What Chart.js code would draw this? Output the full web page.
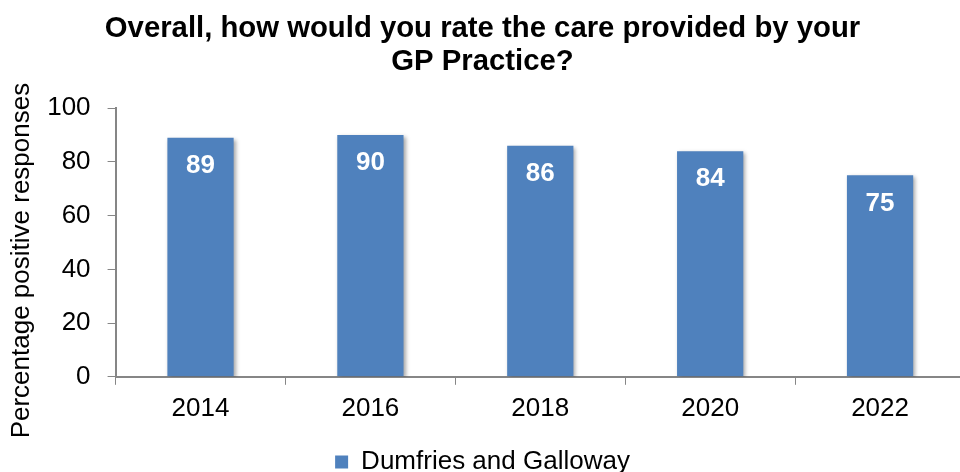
<!DOCTYPE html>
<html>
<head>
<meta charset="utf-8">
<script src="https://cdn.jsdelivr.net/npm/chart.js@4.4.0/dist/chart.umd.min.js"></script>
<style>
  html, body { margin: 0; padding: 0; background: #fff; overflow: hidden; }
  .graph-container { width: 960px; height: 472px; overflow: hidden; }
</style>
</head>
<body>
<div class="graph-container">
  <canvas id="chart" width="965" height="485"></canvas>
</div>
<script>
const years = ['2014', '2016', '2018', '2020', '2022'];
const positive = [89, 90, 86, 84, 75];
const seriesName = 'Dumfries and Galloway';
const yTicks = [0, 20, 40, 60, 80, 100];

const FONT = '"Liberation Sans", Arial, sans-serif';

// soft drop shadow behind the bars
const barShadow = {
  id: 'barShadow',
  beforeDatasetsDraw(chart) {
    const ctx = chart.ctx;
    ctx.save();
    ctx.shadowColor = 'rgba(0, 0, 0, 0.35)';
    ctx.shadowBlur = 4;
    ctx.shadowOffsetX = 2;
    ctx.shadowOffsetY = 2;
  },
  afterDatasetsDraw(chart) {
    chart.ctx.restore();
  },
};

// white value labels just inside the top of each bar
const valueLabels = {
  id: 'valueLabels',
  afterDatasetsDraw(chart) {
    const ctx = chart.ctx;
    const meta = chart.getDatasetMeta(0);
    ctx.save();
    ctx.fillStyle = '#ffffff';
    ctx.font = 'bold 26px ' + FONT;
    ctx.textAlign = 'center';
    ctx.textBaseline = 'middle';
    meta.data.forEach((bar, i) => {
      ctx.fillText(String(positive[i]), bar.x, bar.y + 28);
    });
    ctx.restore();
  },
};

const chartRef = document.getElementById('chart').getContext('2d');
const barChart = new Chart(chartRef, {
  type: 'bar',
  data: {
    labels: years,
    datasets: [
      {
        label: seriesName,
        data: positive,
        backgroundColor: '#4F81BD',
        borderWidth: 0,
        categoryPercentage: 1,
        barPercentage: 0.39,
      },
    ],
  },
  options: {
    responsive: false,
    animation: false,
    devicePixelRatio: 1,
    layout: { padding: { left: 0, right: 0, top: 6, bottom: 0 } },
    plugins: {
      title: {
        display: true,
        text: ['Overall, how would you rate the care provided by your', 'GP Practice?'],
        color: '#000000',
        font: { family: FONT, size: 29.3, weight: 'bold', lineHeight: 1.13 },
        padding: { top: 6, bottom: 30 },
      },
      legend: {
        position: 'bottom',
        labels: {
          color: '#000000',
          font: { family: FONT, size: 26 },
          boxWidth: 13,
          boxHeight: 13,
          padding: 17,
        },
      },
      tooltip: { enabled: false },
    },
    scales: {
      x: {
        grid: {
          display: true,
          drawOnChartArea: false,
          drawTicks: true,
          tickLength: 8,
          color: '#868686',
          offset: true,
        },
        border: { color: '#868686', width: 2 },
        ticks: {
          color: '#000000',
          font: { family: FONT, size: 26 },
          padding: 8,
        },
      },
      y: {
        min: 0,
        max: 100,
        afterBuildTicks(axis) {
          axis.ticks = yTicks.map(v => ({ value: v }));
        },
        grid: {
          display: true,
          drawOnChartArea: false,
          drawTicks: true,
          tickLength: 8,
          color: '#868686',
        },
        border: { color: '#868686', width: 2 },
        ticks: {
          color: '#000000',
          font: { family: FONT, size: 26 },
          padding: 17,
        },
        title: {
          display: true,
          // trailing spaces nudge the rotated title a little down the axis
          text: 'Percentage positive responses     ',
          color: '#000000',
          font: { family: FONT, size: 26 },
          padding: { top: 6, bottom: -7 },
        },
      },
    },
  },
  plugins: [barShadow, valueLabels],
});
</script>
</body>
</html>
